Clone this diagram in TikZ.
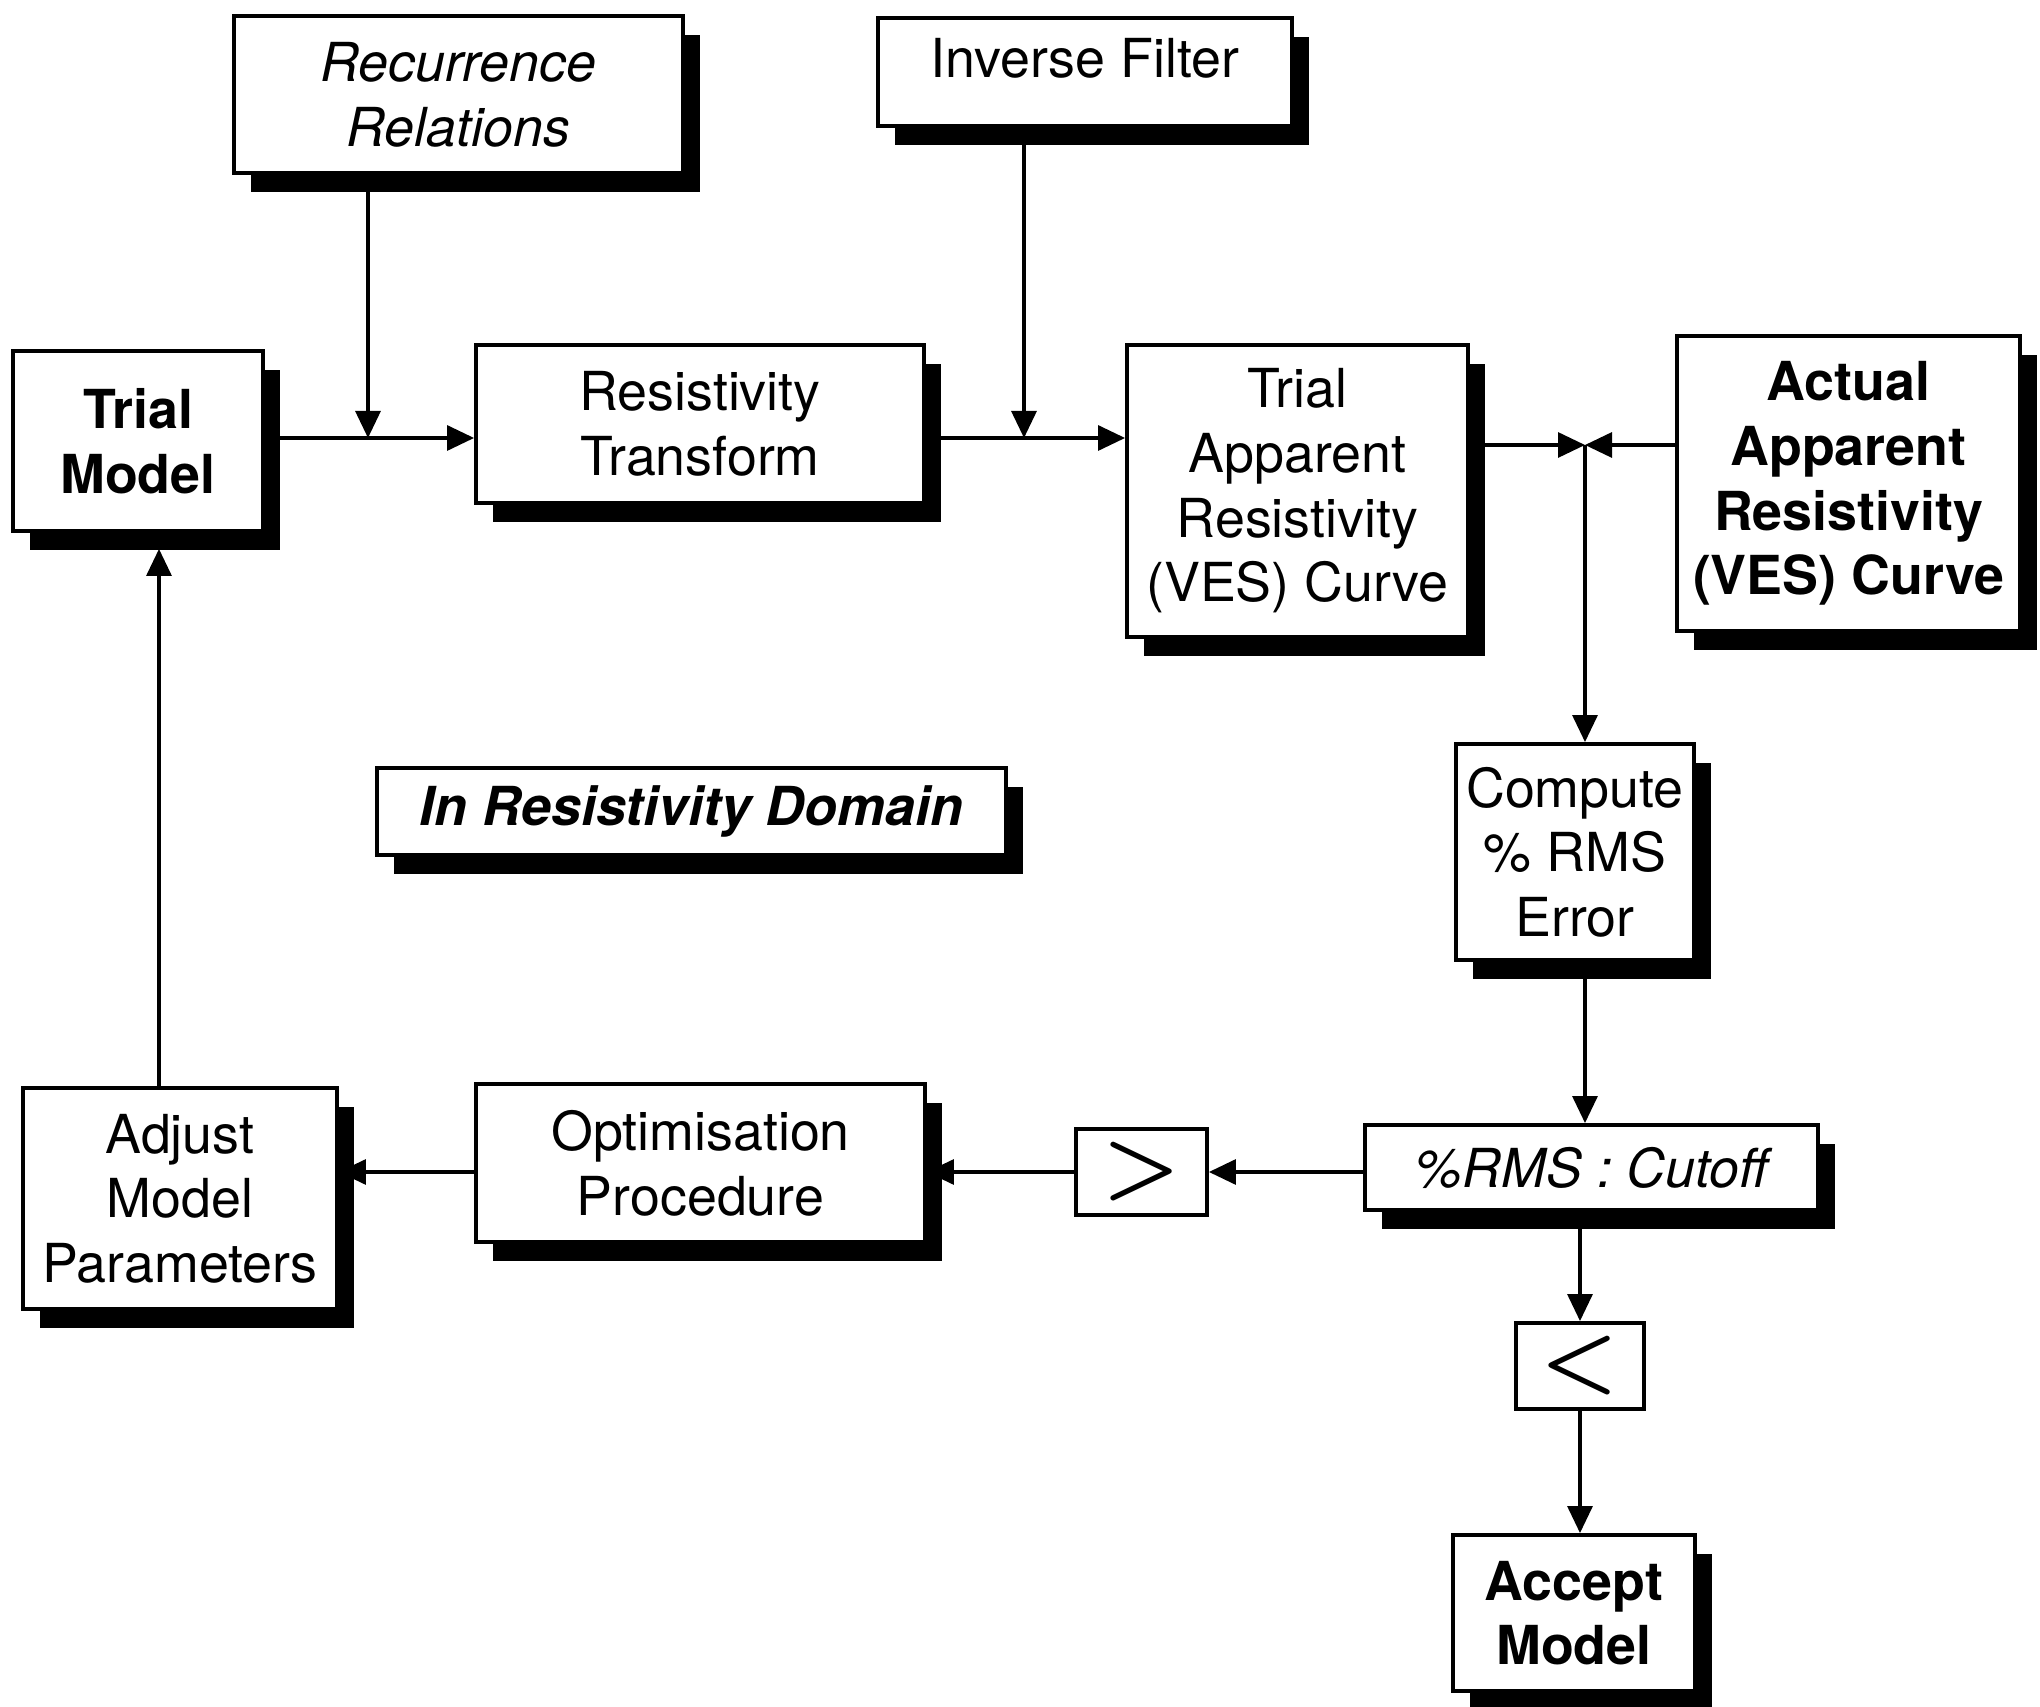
\documentclass[tikz,border=0pt]{standalone}
\usepackage{fontspec}
\setmainfont{TeX Gyre Heros}
\usetikzlibrary{positioning,shadows,arrows.meta}
\newcommand{\fs}{\fontsize{15.3}{18.4}\selectfont}
\tikzset{
	blk/.style={draw, line width=1.1pt, fill=white, align=center, inner sep=0.1cm, font=\fs,
		general shadow={fill=black, shadow xshift=0.17cm, shadow yshift=-0.19cm}},
	cmpbox/.style={draw, line width=1.1pt, fill=white, inner sep=0pt, font=\fontsize{25}{25}\selectfont\boldmath},
	arr/.style={line width=0.9pt, -{Triangle[length=0.27cm,width=0.25cm]}}
}

\begin{document}
\begin{tikzpicture}
	\useasboundingbox (0,0) rectangle (20.4,-17.07);
	\node[blk, font=\fs\itshape, minimum width=4.49cm, minimum height=1.57cm] (rec) at (4.585,-0.945) {Recurrence\\Relations};
	\node[blk, anchor=north, text height=0.5cm, text depth=0.38cm, minimum width=4.14cm] (inv) at (10.85,-0.16) {Inverse Filter};
	\node[blk, font=\fs\bfseries, minimum width=2.5cm, minimum height=1.8cm] (tm) at (1.38,-4.41) {Trial\\Model};
	\node[blk, minimum width=4.48cm, minimum height=1.58cm] (res) at (7.0,-4.24) {Resistivity\\Transform};
	\node[blk, minimum width=3.41cm, minimum height=2.92cm] (tac) at (12.975,-4.91) {Trial\\Apparent\\Resistivity\\(VES) Curve};
	\node[blk, font=\fs\bfseries, minimum width=3.43cm, minimum height=2.95cm] (act) at (18.485,-4.835) {Actual\\Apparent\\Resistivity\\(VES) Curve};
	\node[blk, font=\fs\bfseries\itshape, minimum width=6.29cm, minimum height=0.87cm] (dom) at (6.915,-8.115) {In Resistivity Domain};
	\node[blk, minimum width=2.38cm, minimum height=2.16cm] (cmp) at (15.75,-8.52) {Compute\\\% RMS\\Error};
	\node[blk, font=\fs\itshape, minimum width=4.53cm, minimum height=0.85cm] (cut) at (15.915,-11.675) {\%RMS : Cutoff};
	\node[cmpbox, minimum width=1.31cm, minimum height=0.86cm] (gt) at (11.415,-11.72) {$>$};
	\node[cmpbox, minimum width=1.28cm, minimum height=0.86cm] (lt) at (15.80,-13.66) {$<$};
	\node[blk, font=\fs\bfseries, minimum width=2.42cm, minimum height=1.56cm] (acc) at (15.74,-16.13) {Accept\\Model};
	\node[blk, minimum width=3.14cm, minimum height=2.21cm] (adj) at (1.80,-11.985) {Adjust\\Model\\Parameters};
	\node[blk, minimum width=4.49cm, minimum height=1.58cm] (opt) at (7.005,-11.63) {Optimisation\\Procedure};

	\coordinate (ja) at (3.68,-4.38);
	\coordinate (jb) at (10.24,-4.38);
	\coordinate (jc) at (15.85,-4.45);
	\coordinate (xa) at (1.59,0);
	\draw[arr] (tm.east |- ja) -- (res.west |- ja);
	\draw[arr] (rec.south -| ja) -- (ja);
	\draw[arr] (res.east |- jb) -- (tac.west |- jb);
	\draw[arr] (inv.south -| jb) -- (jb);
	\draw[arr] (tac.east |- jc) -- (jc);
	\draw[arr] (act.west |- jc) -- (jc);
	\draw[arr] (jc) -- (cmp.north -| jc);
	\draw[arr] (cmp.south -| jc) -- (cut.north -| jc);
	\draw[arr] (cut.west |- gt) -- (gt.east);
	\draw[arr] (gt.west) -- (opt.east |- gt);
	\draw[arr] (opt.west |- gt) -- (adj.east |- gt);
	\draw[arr] (adj.north -| xa) -- ([yshift=-1.6mm]tm.south -| xa);
	\draw[arr] (cut.south -| lt) -- (lt.north);
	\draw[arr] (lt.south) -- (acc.north -| lt.south);
\end{tikzpicture}
\end{document}
